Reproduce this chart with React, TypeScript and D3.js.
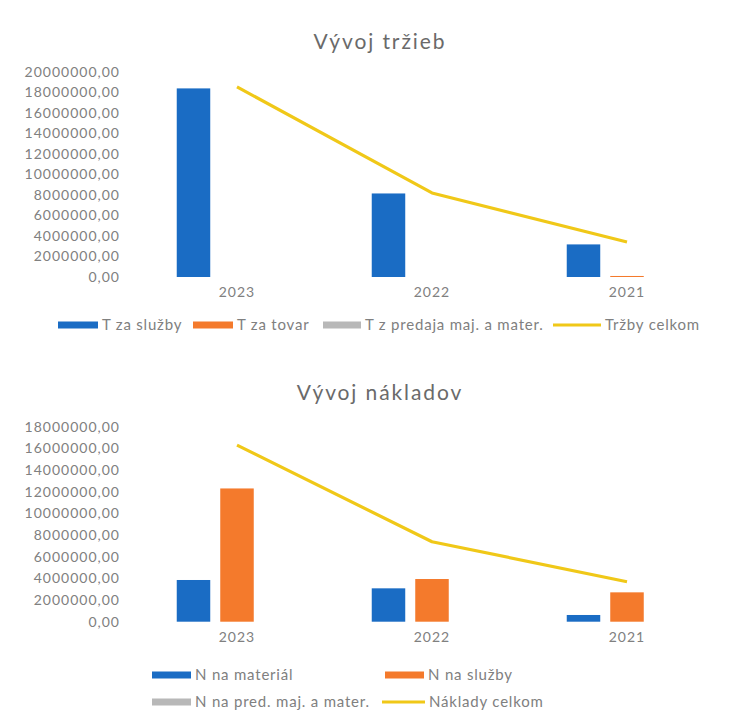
import * as d3 from 'd3';
import React from 'react';

// categories
const years = ['2023', '2022', '2021'];

// Vývoj tržieb
const tSluzby = [18400000, 8150000, 3180000];
const tTovar = [0, 0, 100000];
const tPredaj = [0, 0, 0];
const trzbyCelkom = [18550000, 8200000, 3420000];
const trzbyTicks = [0, 2000000, 4000000, 6000000, 8000000, 10000000, 12000000, 14000000, 16000000, 18000000, 20000000];

// Vývoj nákladov
const nMaterial = [3850000, 3080000, 620000];
const nSluzby = [12300000, 3940000, 2710000];
const nPred = [0, 0, 0];
const nakladyCelkom = [16300000, 7380000, 3690000];
const nakladyTicks = [0, 2000000, 4000000, 6000000, 8000000, 10000000, 12000000, 14000000, 16000000, 18000000];

const BLUE = '#1a6cc4';
const ORANGE = '#f47a2c';
const GRAY = '#b8b8b8';
const YELLOW = '#f0c818';
const TEXT = '#808080';
const FONT = 'Lato, "Noto Sans", sans-serif';

type LegendItem = { label: string; color: string; kind: 'bar' | 'line'; x: number; w: number; y: number };

function Chart({ title, titleY, top, bottom, ticks, bars, total, legend }: {
  title: string; titleY: number; top: number; bottom: number; ticks: number[];
  bars: { name: string; color: string; values: number[] }[];
  total: number[]; legend: LegendItem[];
}) {
  const x0 = d3.scaleBand().domain(years).range([139.5, 724.5]);
  const x1 = d3.scaleBand().domain(bars.map(b => b.name)).range([0, x0.bandwidth()])
    .paddingInner(0.23).paddingOuter(0.856);
  const y = d3.scaleLinear().domain([0, ticks[ticks.length - 1]]).range([bottom, top]);
  const line = d3.line<number>()
    .x((_, i) => x0(years[i])! + x0.bandwidth() / 2)
    .y(d => y(d));

  return (
    <g fontFamily={FONT} fill={TEXT}>
      <text x={380} y={titleY} textAnchor="middle" fontSize={21} letterSpacing={1.9} fill="#6a6a6a">{title}</text>
      {ticks.map(t => (
        <text key={t} x={120} y={y(t)} dy="0.35em" textAnchor="end" fontSize={14} letterSpacing={1}>
          {`${t},00`}
        </text>
      ))}
      {bars.map(b => b.values.map((v, i) => (
        <rect key={b.name + i} x={x0(years[i])! + x1(b.name)!} width={x1.bandwidth()}
          y={y(v)} height={bottom - y(v)} fill={b.color} />
      )))}
      <path d={line(total)!} fill="none" stroke={YELLOW} strokeWidth={3.2} strokeLinejoin="round" />
      {years.map(yr => (
        <text key={yr} x={x0(yr)! + x0.bandwidth() / 2} y={bottom + 20} textAnchor="middle" fontSize={14} letterSpacing={1}>
          {yr}
        </text>
      ))}
      {legend.map(l => (
        <g key={l.label}>
          {l.kind === 'bar'
            ? <rect x={l.x} y={l.y - 3.5} width={l.w} height={7} fill={l.color} />
            : <line x1={l.x} x2={l.x + l.w} y1={l.y} y2={l.y} stroke={l.color} strokeWidth={3} />}
          <text x={l.x + l.w + 4} y={l.y} dy="0.35em" fontSize={15} letterSpacing={0.8}>{l.label}</text>
        </g>
      ))}
    </g>
  );
}

export default function App() {
  return (
    <svg width={741} height={718} style={{ position: 'absolute', left: 0, top: 0, background: '#fff' }}>
      <Chart title="Vývoj tržieb" titleY={49} top={72} bottom={277} ticks={trzbyTicks}
        bars={[
          { name: 'T za služby', color: BLUE, values: tSluzby },
          { name: 'T za tovar', color: ORANGE, values: tTovar },
          { name: 'T z predaja maj. a mater.', color: GRAY, values: tPredaj },
        ]}
        total={trzbyCelkom}
        legend={[
          { label: 'T za služby', color: BLUE, kind: 'bar', x: 58, w: 40, y: 325 },
          { label: 'T za tovar', color: ORANGE, kind: 'bar', x: 193, w: 40, y: 325 },
          { label: 'T z predaja maj. a mater.', color: GRAY, kind: 'bar', x: 323, w: 38, y: 325 },
          { label: 'Tržby celkom', color: YELLOW, kind: 'line', x: 553, w: 48, y: 325 },
        ]} />
      <Chart title="Vývoj nákladov" titleY={400} top={426.7} bottom={621.7} ticks={nakladyTicks}
        bars={[
          { name: 'N na materiál', color: BLUE, values: nMaterial },
          { name: 'N na služby', color: ORANGE, values: nSluzby },
          { name: 'N na pred. maj. a mater.', color: GRAY, values: nPred },
        ]}
        total={nakladyCelkom}
        legend={[
          { label: 'N na materiál', color: BLUE, kind: 'bar', x: 152, w: 39, y: 675 },
          { label: 'N na služby', color: ORANGE, kind: 'bar', x: 385, w: 39, y: 675 },
          { label: 'N na pred. maj. a mater.', color: GRAY, kind: 'bar', x: 152, w: 39, y: 702 },
          { label: 'Náklady celkom', color: YELLOW, kind: 'line', x: 382, w: 43, y: 702 },
        ]} />
    </svg>
  );
}
